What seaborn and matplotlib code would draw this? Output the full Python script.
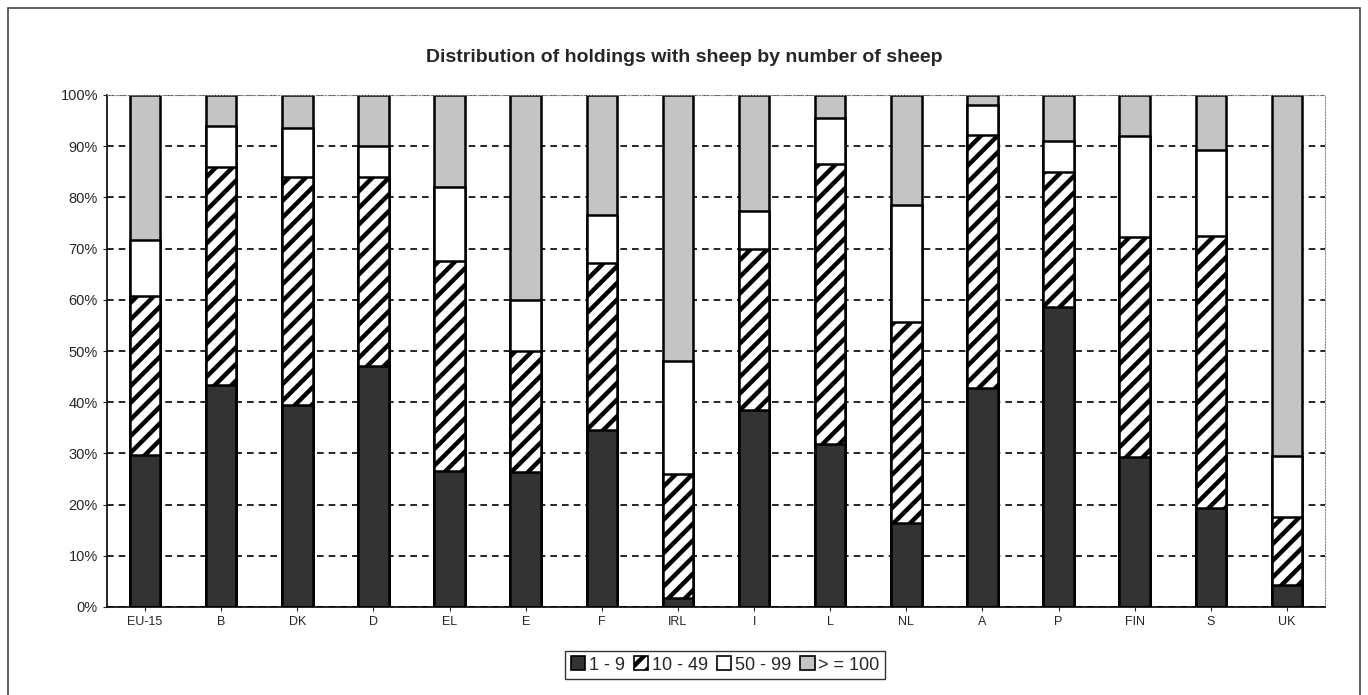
import numpy as np
import pandas as pd
import matplotlib
matplotlib.use("Agg")
import matplotlib.pyplot as plt
import seaborn as sns
from matplotlib.patches import Patch, Rectangle

sns.set_style("white")
plt.rcParams["font.family"] = ["Liberation Sans", "DejaVu Sans"]
plt.rcParams["hatch.linewidth"] = 3.2

countries = ["EU-15", "B", "DK", "D", "EL", "E", "F", "IRL", "I", "L",
             "NL", "A", "P", "FIN", "S", "UK"]
s_1_9 = [29.7, 43.3, 39.5, 47.0, 26.5, 26.3, 34.5, 1.8, 38.5, 31.8,
         16.5, 42.8, 58.5, 29.3, 19.3, 4.3]
s_10_49 = [31.0, 42.7, 44.5, 37.0, 41.0, 23.7, 32.7, 24.2, 31.5, 54.7,
           39.2, 49.4, 26.5, 43.0, 53.2, 13.2]
s_50_99 = [11.0, 8.0, 9.5, 6.0, 14.5, 10.0, 9.3, 22.0, 7.3, 9.0,
           22.8, 5.8, 6.0, 19.7, 16.8, 12.0]
s_100 = [28.3, 6.0, 6.5, 10.0, 18.0, 40.0, 23.5, 52.0, 22.7, 4.5,
         21.5, 2.0, 9.0, 8.0, 10.7, 70.5]
labels = ["1 - 9", "10 - 49", "50 - 99", "> = 100"]

df = pd.DataFrame({"country": countries, "a": s_1_9, "b": s_10_49,
                   "c": s_50_99, "d": s_100})
cols = ["a", "b", "c", "d"]
tot = df[cols].sum(axis=1)
for c in cols:
    df[c] = df[c] / tot * 100
cum = df[cols].cumsum(axis=1)

colors = ["#333333", "white", "white", "#c4c4c4"]
hatches = [None, "//", None, None]

fig = plt.figure(figsize=(13.68, 6.95), dpi=100)
ax = fig.add_axes([107 / 1368, 1 - 607 / 695, 1218 / 1368, 512 / 695])

# draw cumulative bars from the top level down so each covers the next
for i in range(3, -1, -1):
    sns.barplot(data=cum.assign(country=df["country"]), x="country", y=cols[i],
                color=colors[i], edgecolor="black", linewidth=1.8,
                width=0.4, ax=ax, saturation=1)

n = len(countries)
for k, p in enumerate(ax.patches):
    level = 3 - k // n
    if hatches[level]:
        p.set_hatch(hatches[level])

ax.set_ylim(0, 100)
ax.set_xlim(-0.5, n - 0.5)
ax.set_yticks(np.arange(0, 101, 10))
ax.set_yticklabels([f"{v}%" for v in range(0, 101, 10)], fontsize=10.5)
ax.tick_params(axis="x", labelsize=9, length=3, direction="out", bottom=True)
ax.tick_params(axis="y", length=3, left=True)
ax.set_xlabel("")
ax.set_ylabel("")
ax.yaxis.grid(True, linestyle=(0, (4, 3)), color="black", linewidth=1.2)
ax.set_axisbelow(True)
for side in ["top", "right"]:
    ax.spines[side].set_linestyle(":")
    ax.spines[side].set_color("#888888")
for side in ["left", "bottom"]:
    ax.spines[side].set_color("black")
    ax.spines[side].set_linewidth(1.2)

fig.text(0.5, 1 - 57 / 695, "Distribution of holdings with sheep by number of sheep",
         ha="center", va="center", fontsize=14, fontweight="bold")

handles = [Patch(facecolor=colors[i], edgecolor="black", hatch=hatches[i],
                 linewidth=1.2) for i in range(4)]
leg = fig.legend(handles, labels, loc="center", bbox_to_anchor=(725 / 1368, 1 - 665 / 695),
                 ncol=4, frameon=True, fontsize=13, handlelength=0.8, handleheight=0.8,
                 handletextpad=0.2, columnspacing=0.5, borderpad=0.3, fancybox=False)
leg.get_frame().set_edgecolor("black")
leg.get_frame().set_linewidth(1.0)

fig.patches.append(Rectangle((8 / 1368, -0.01), 1352 / 1368, 1 - 8 / 695 + 0.01,
                             transform=fig.transFigure, fill=False,
                             edgecolor="#444444", linewidth=1.2))

fig.savefig("out.png", dpi=100)
